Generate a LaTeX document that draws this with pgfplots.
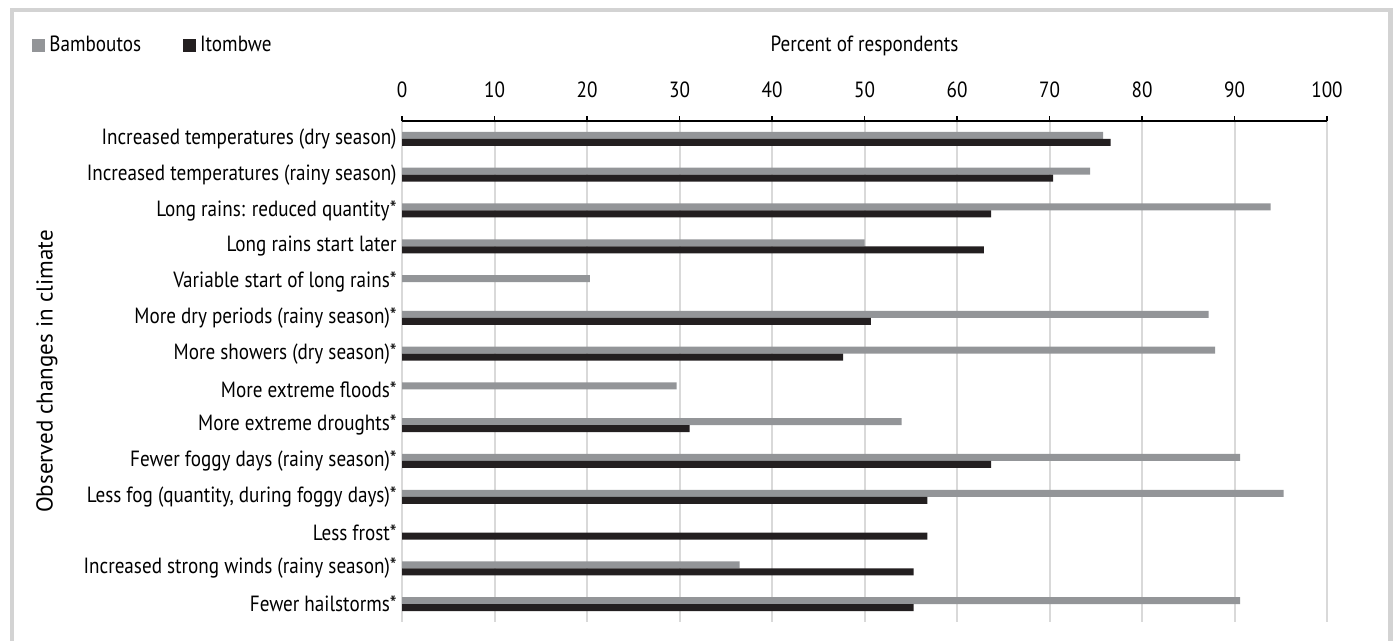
\documentclass[border=0pt]{standalone}
\usepackage{fontspec}
\setmainfont{PT Sans}[FakeStretch=0.87]
\newfontfamily\widefont{PT Sans}
\usepackage{pgfplots}
\pgfplotsset{compat=1.18}
\definecolor{bamb}{HTML}{939598}
\definecolor{itom}{HTML}{231F20}
\definecolor{gridc}{HTML}{D9D9D9}
\definecolor{framec}{HTML}{D3D3D3}

\begin{document}
\fontsize{11}{13}\selectfont
\begin{tikzpicture}
  \path[use as bounding box] (0,0) rectangle (697.5pt,-320.5pt);
  \draw[framec, line width=2.25pt] (6pt,-330pt) -- (6pt,-5pt) -- (695.25pt,-5pt) -- (695.25pt,-330pt);
  \begin{axis}[
      at={(201pt,-60.5pt)}, anchor=north west,
      scale only axis, width=462.5pt, height=250.5pt,
      xbar, bar width=3.5pt,
      xmin=0, xmax=100, ymin=0.5, ymax=14.5, y dir=reverse,
      axis x line*=top, axis y line*=left,
      y axis line style={draw=none},
      x axis line style={black, line width=0.75pt},
      xtick={0,10,...,100},
      xtick style={black, line width=0.6pt},
      major tick length=2.5pt, tick align=outside,
      xticklabel style={anchor=south, inner sep=0pt, yshift=9pt},
      /pgf/number format/assume math mode=true,
      ytick={1,...,14},
      ytick style={draw=none},
      yticklabel style={anchor=east, inner sep=0pt},
      yticklabels={
        Increased temperatures (dry season),
        Increased temperatures (rainy season),
        Long rains: reduced quantity*,
        Long rains start later,
        Variable start of long rains*,
        More dry periods (rainy season)*,
        More showers (dry season)*,
        More extreme floods*,
        More extreme droughts*,
        Fewer foggy days (rainy season)*,
        {Less fog (quantity, during foggy days)*},
        Less frost*,
        Increased strong winds (rainy season)*,
        Fewer hailstorms*},
      xmajorgrids, grid style={gridc, line width=1pt},
      xlabel={Percent of respondents},
      every axis x label/.style={at={(rel axis cs:0.5,1)}, anchor=base, yshift=35pt},
      ylabel={\widefont\fontsize{11.5}{13}\selectfont Observed changes in climate},
      every axis y label/.style={at={(rel axis cs:0,0.5)}, xshift=-177.5pt, rotate=90, anchor=center},
      legend columns=2,
      legend cell align=left,
      legend style={draw=none, fill=none, inner sep=0pt,
        at={(rel axis cs:-0.4,1.1507)}, anchor=west,
        /tikz/every even column/.append style={column sep=19pt}},
    ]
    \addplot[fill=bamb, draw=none, bar shift=1.75pt,
      legend image code/.code={\fill[bamb] (0pt,-3.25pt) rectangle (6.5pt,3.25pt);}]
      coordinates {(75.8,1) (74.4,2) (93.9,3) (50.0,4) (20.3,5) (87.2,6) (87.9,7)
                   (29.7,8) (54.0,9) (90.6,10) (95.3,11) (36.5,13) (90.6,14)};
    \addlegendentry{Bamboutos}
    \addplot[fill=itom, draw=none, bar shift=-1.75pt,
      legend image code/.code={\fill[itom] (0pt,-3.25pt) rectangle (6.5pt,3.25pt);}]
      coordinates {(76.6,1) (70.4,2) (63.7,3) (62.9,4) (50.7,6) (47.7,7)
                   (31.1,9) (63.7,10) (56.8,11) (56.8,12) (55.3,13) (55.3,14)};
    \addlegendentry{Itombwe}
  \end{axis}
\end{tikzpicture}
\end{document}
